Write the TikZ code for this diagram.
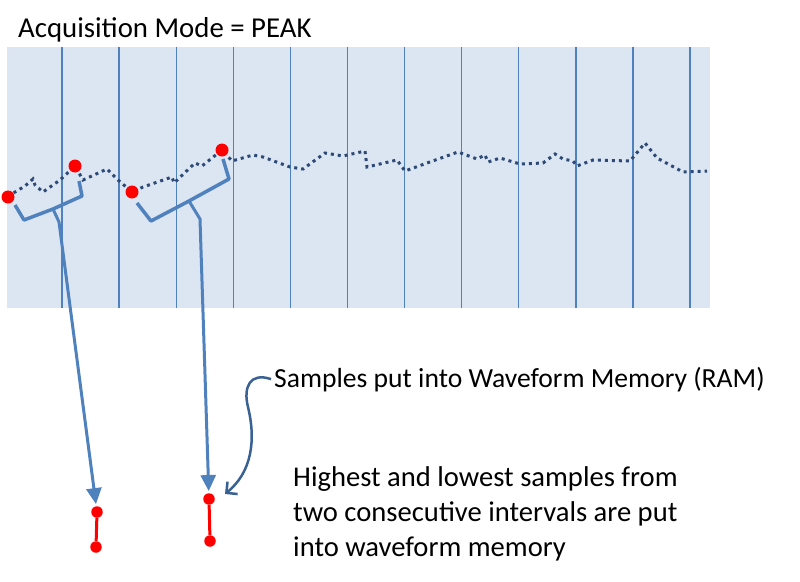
\documentclass[tikz,border=0pt]{standalone}
\usepackage{fontspec}
\setmainfont{Carlito}
\usetikzlibrary{arrows.meta}
\definecolor{gridblue}{HTML}{4F81BD}
\definecolor{panelblue}{HTML}{DCE5F2}
\definecolor{tracecol}{HTML}{2C4A75}
\definecolor{calloutcol}{HTML}{3A6193}

\begin{document}
\begin{tikzpicture}[x=1pt,y=-1pt,
    sample/.style={circle,fill=red,inner sep=0pt,minimum size=13pt},
    ramdot/.style={circle,fill=red,inner sep=0pt,minimum size=11.5pt},
    gridline/.style={gridblue,line width=1.3pt},
    trace/.style={tracecol,line width=3pt,dash pattern=on 3pt off 4pt},
    brace/.style={gridblue,line width=3.5pt,line join=round},
    fetch/.style={gridblue,line width=3pt,shorten >=2pt,
        -{Triangle[length=16pt,width=15pt]}},
    note/.style={font=\fontsize{28.8}{35}\selectfont,inner sep=0pt},
]
\useasboundingbox (0,0) rectangle (800,581);

% acquisition window with sample intervals
\fill[panelblue] (7,47) rectangle (710,308);
\foreach \i in {0,...,11}
    \draw[gridline] ({62+57.1*\i},47) -- ++(0,261);

% sampled signal
\draw[trace] (8,197) -- (15,192) -- (25,186) -- (33,179) -- (35,185)
    -- (43,192) -- (60,180) -- (75,166) -- (83,180) -- (107,169)
    -- (118,180) -- (132,192) -- (143,187) -- (172,177) -- (174,183)
    -- (195,163) -- (202,166) -- (222,150) -- (232,161) -- (253,155)
    -- (263,157) -- (290,167) -- (303,169) -- (325,153) -- (343,156)
    -- (365,151) -- (367,167) -- (397,160) -- (405,171) -- (427,163)
    -- (458,152) -- (477,159) -- (485,155) -- (488,162) -- (500,158)
    -- (520,164) -- (543,163) -- (555,154) -- (563,159) -- (573,161)
    -- (577,166) -- (593,160) -- (630,161) -- (645,143) -- (657,158)
    -- (683,172) -- (707,171);

\node[sample] (low1) at (8,197) {};
\node[sample] (high1) at (75,166) {};
\node[sample] (low2) at (132,192) {};
\node[sample] (high2) at (222,150) {};

% brackets over two intervals
\draw[brace] (15,205) -- (24,220) -- (53,209) -- (82,196) -- (79,181);
\draw[brace] (137,203) -- (151,221) -- (189,201) -- (229,179) -- (223,159);
\coordinate (stem1) at (53,209);
\coordinate (stem2) at (189,201);

% waveform memory entries
\node[ramdot] (ramhigh1) at (97,512) {};
\node[ramdot] (ramlow1) at (96,547) {};
\node[ramdot] (ramhigh2) at (209,499) {};
\node[ramdot] (ramlow2) at (210,541) {};
\draw[red,line width=3pt] (ramhigh1) -- (ramlow1);
\draw[red,line width=3pt] (ramhigh2) -- (ramlow2);

\draw[fetch] (stem1) -- ++(6,13) -- (ramhigh1);
\draw[fetch] (stem2) -- ++(11,18) -- (ramhigh2);

% texts
\node[note,anchor=base west] (title) at (18,37) {Acquisition Mode = PEAK};
\node[note,anchor=base west,font=\fontsize{27.6}{35}\selectfont] (ramtext)
    at (274,387) {Samples put into Waveform Memory (RAM)};
\node[note,anchor=north west,align=left,font=\fontsize{28.6}{35}\selectfont]
    (peaktext) at (293,466)
    {Highest and lowest samples from\\two consecutive intervals are put\\into waveform memory};

\draw[calloutcol,line width=2.5pt,-{Straight Barb[length=8pt,width=16pt]}]
    ([xshift=-3pt]ramtext.west) .. controls (250,372) and (243,387) .. (248,407)
    .. controls (256,440) and (252,472) .. (225,494);
\end{tikzpicture}
\end{document}
